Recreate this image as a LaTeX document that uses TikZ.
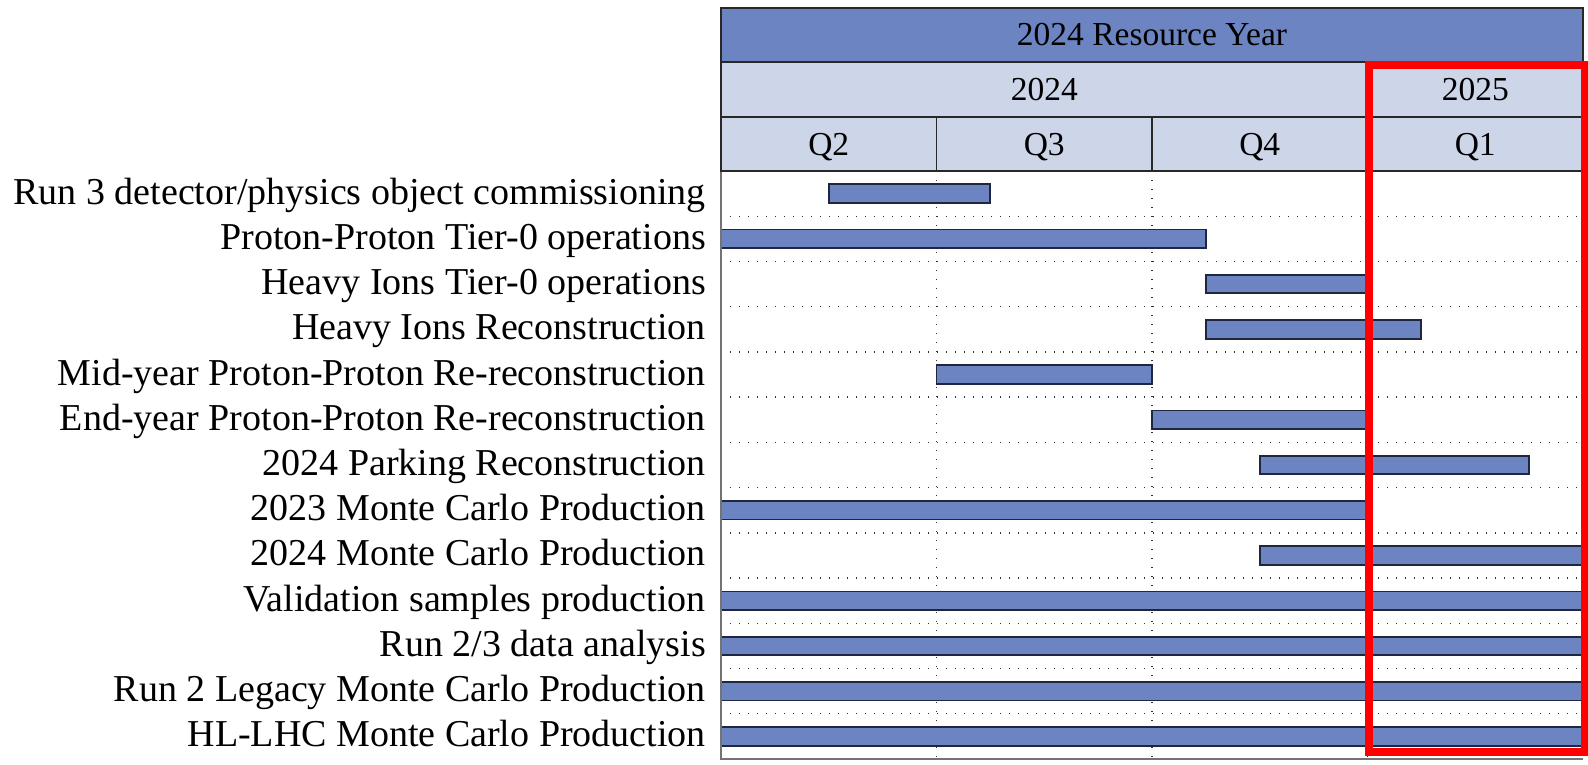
\documentclass[tikz,border=0pt]{standalone}
\usepackage{fontspec}
\setmainfont{Liberation Serif}
\definecolor{hdark}{RGB}{108,132,193}
\definecolor{hlight}{RGB}{205,213,232}
\definecolor{barline}{RGB}{30,38,64}
\definecolor{frame}{RGB}{40,40,40}
\begin{document}
\begin{tikzpicture}[x=1pt,y=-1pt,
  hdrtext/.style={font=\fontsize{33.5}{40}\selectfont, inner sep=0pt, anchor=base},
  rowlabel/.style={font=\fontsize{38}{44}\selectfont, inner sep=0pt, anchor=base east},
  hdrborder/.style={draw=frame, line width=1.6pt},
  gridline/.style={draw=black!80, line width=1.4pt, dash pattern=on 1.4pt off 7.6pt},
  axisline/.style={draw=black!55, line width=1.6pt},
  bar/.style={fill=hdark, draw=barline, line width=1.8pt},
  highlight/.style={draw=red, line width=8pt}
]
\useasboundingbox (0,0) rectangle (1588,764);

% chart geometry (px): left, right, month width, data top, row height
\def\xl{721}
\def\xr{1583}
\def\mo{71.833}
\def\ytop{171}
\def\rh{45.231}

% dotted row separators
\foreach \k in {1,...,12}{
  \draw[gridline] (\xl,{\ytop+\k*\rh}) -- (\xr,{\ytop+\k*\rh});
}
% dotted quarter separators
\foreach \q in {1,2,3}{
  \draw[gridline] ({\xl+3*\q*\mo},\ytop) -- ({\xl+3*\q*\mo},{\ytop+13*\rh});
}

% activities: row index / start month / end month / label
\foreach \k/\s/\e/\lbl in {
  0/1.5/3.75/{Run 3 detector/physics object commissioning},
  1/0/6.75/{Proton-Proton Tier-0 operations},
  2/6.75/9/{Heavy Ions Tier-0 operations},
  3/6.75/9.75/{Heavy Ions Reconstruction},
  4/3/6/{Mid-year Proton-Proton Re-reconstruction},
  5/6/9/{End-year Proton-Proton Re-reconstruction},
  6/7.5/11.25/{2024 Parking Reconstruction},
  7/0/9/{2023 Monte Carlo Production},
  8/7.5/12/{2024 Monte Carlo Production},
  9/0/12/{Validation samples production},
  10/0/12/{Run 2/3 data analysis},
  11/0/12/{Run 2 Legacy Monte Carlo Production},
  12/0/12/{HL-LHC Monte Carlo Production}}{
  \pgfmathsetmacro{\yc}{\ytop+(\k+0.5)*\rh}
  \draw[bar] ({\xl+\s*\mo},{\yc-9.3}) rectangle ({\xl+\e*\mo},{\yc+9.3});
  \node[rowlabel] (act\k) at (706,{\yc+10.5}) {\lbl};
}

% data area frame (left and bottom)
\draw[axisline] (\xl,\ytop) -- (\xl,{\ytop+13*\rh}) -- (\xr,{\ytop+13*\rh});

% header rows
\fill[hdark] (\xl,8) rectangle (\xr,62);
\fill[hlight] (\xl,62) rectangle (\xr,\ytop);
\draw[hdrborder] (\xl,8) rectangle (\xr,\ytop);
\draw[hdrborder] (\xl,62) -- (\xr,62);
\draw[hdrborder] (\xl,117) -- (\xr,117);
\draw[hdrborder] ({\xl+9*\mo},62) -- ({\xl+9*\mo},\ytop);
\foreach \q in {1,2}{
  \draw[hdrborder] ({\xl+3*\q*\mo},117) -- ({\xl+3*\q*\mo},\ytop);
}

\node[hdrtext] (resyear) at ({(\xl+\xr)/2},45.5) {2024 Resource Year};
\node[hdrtext] (y2024) at ({\xl+4.5*\mo},100) {2024};
\node[hdrtext] (y2025) at ({\xl+10.5*\mo},100) {2025};
\node[hdrtext] (q2) at ({\xl+1.5*\mo},155) {Q2};
\node[hdrtext] (q3) at ({\xl+4.5*\mo},155) {Q3};
\node[hdrtext] (q4) at ({\xl+7.5*\mo},155) {Q4};
\node[hdrtext] (q1) at ({\xl+10.5*\mo},155) {Q1};

% highlighted 2025 quarter
\draw[highlight] (1369,65) rectangle (1585,752);
\end{tikzpicture}
\end{document}
